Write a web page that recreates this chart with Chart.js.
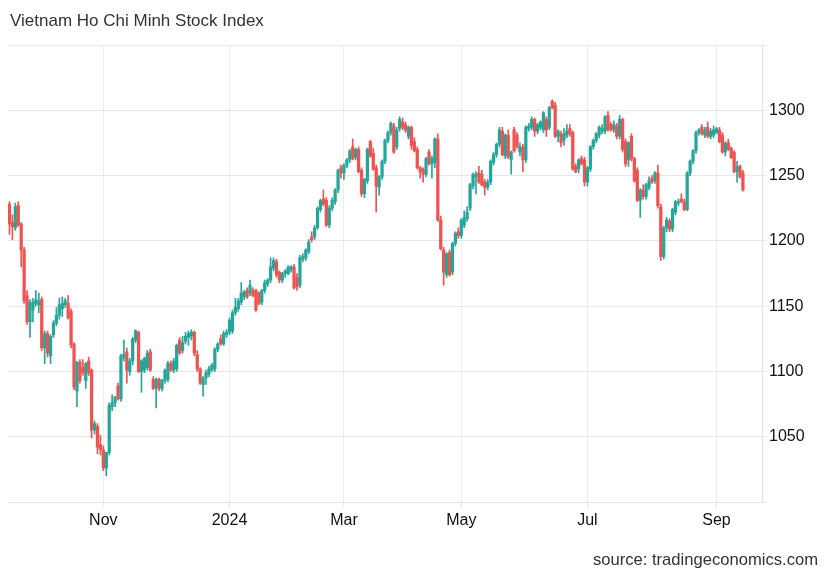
<!DOCTYPE html>
<html lang="en">
<head>
    <meta charset="UTF-8">
    <title>Vietnam Ho Chi Minh Stock Index</title>
    <script src="https://cdn.jsdelivr.net/npm/chart.js"></script>
    <style>
        body { margin: 0; background: #fff; font-family: "Liberation Sans", Arial, sans-serif; }
        .wrap { position: relative; width: 830px; height: 575px; }
        .title { position: absolute; left: 10px; top: 11px; font-size: 17px; color: #333; }
        .source { position: absolute; right: 12px; top: 550px; font-size: 16.6px; color: #333; }
    </style>
</head>
<body>
    <div class="wrap">
        <canvas id="chart" width="830" height="575"></canvas>
        <div class="title">Vietnam Ho Chi Minh Stock Index</div>
        <div class="source">source: tradingeconomics.com</div>
    </div>

    <script>
        // daily candles, one per trading day (mid Sep 2023 .. mid Sep 2024)
        const openVals = [
            1228,1214,1210,1227,1213,1193,1158,1138,1147,1152,
            1151,1155,1118,1129,1112,1128,1137,1143,1148,1151,
            1152,1146,1121,1085,1107,1103,1093,1108,1101,1055,
            1058,1044,1040,1026,1038,1073,1076,1089,1079,1111,
            1115,1100,1108,1124,1130,1100,1101,1103,1115,1094,
            1087,1094,1087,1093,1094,1106,1101,1102,1124,1116,
            1123,1126,1127,1130,1113,1102,1090,1095,1098,1101,
            1102,1117,1125,1121,1128,1130,1131,1145,1148,1153,
            1157,1162,1160,1162,1162,1160,1153,1162,1167,1170,
            1179,1184,1176,1170,1175,1175,1178,1180,1172,1166,
            1186,1187,1192,1203,1203,1210,1224,1232,1231,1212,
            1225,1230,1239,1256,1252,1258,1262,1272,1264,1270,
            1254,1236,1246,1276,1267,1256,1241,1249,1261,1277,
            1283,1288,1272,1286,1291,1289,1280,1287,1276,1270,
            1256,1255,1251,1268,1259,1260,1278,1216,1193,1174,
            1191,1176,1198,1207,1204,1212,1217,1225,1242,1249,
            1252,1251,1245,1241,1245,1260,1266,1274,1284,1265,
            1281,1262,1285,1281,1268,1272,1262,1286,1287,1293,
            1284,1287,1285,1293,1287,1307,1304,1280,1282,1277,
            1281,1286,1283,1257,1255,1263,1262,1245,1255,1272,
            1277,1281,1284,1284,1296,1289,1285,1288,1280,1293,
            1276,1262,1280,1263,1254,1231,1239,1234,1241,1248,
            1246,1252,1226,1188,1210,1215,1209,1222,1229,1232,
            1230,1224,1252,1261,1269,1283,1287,1281,1287,1280,
            1281,1283,1285,1281,1268,1275,1271,1268,1253,1257,1252
        ];
        const highVals = [
            1230,1220,1229,1230,1214,1195,1162,1155,1156,1162,
            1160,1157,1131,1131,1128,1139,1149,1156,1157,1156,
            1158,1148,1122,1108,1109,1109,1107,1111,1102,1062,
            1060,1051,1043,1038,1076,1082,1081,1091,1113,1124,
            1118,1110,1126,1132,1131,1109,1111,1116,1117,1096,
            1095,1095,1094,1102,1108,1108,1110,1121,1126,1127,
            1130,1131,1132,1131,1116,1103,1096,1101,1104,1106,
            1118,1122,1128,1131,1132,1141,1147,1156,1156,1168,
            1162,1164,1170,1164,1163,1161,1163,1170,1171,1187,
            1187,1186,1177,1176,1178,1181,1181,1182,1175,1189,
            1190,1194,1201,1207,1212,1226,1232,1239,1233,1227,
            1233,1240,1255,1258,1259,1263,1270,1278,1271,1272,
            1256,1248,1271,1277,1271,1258,1250,1262,1278,1284,
            1291,1290,1287,1295,1294,1291,1288,1288,1279,1272,
            1257,1256,1264,1270,1265,1279,1282,1219,1195,1191,
            1193,1199,1207,1210,1217,1223,1226,1244,1252,1253,
            1257,1254,1247,1247,1262,1268,1275,1287,1287,1282,
            1285,1269,1287,1283,1275,1274,1288,1290,1295,1294,
            1290,1292,1299,1295,1303,1308,1306,1285,1284,1286,
            1289,1289,1284,1259,1263,1265,1264,1257,1273,1278,
            1283,1288,1289,1296,1299,1291,1292,1290,1296,1294,
            1278,1276,1282,1264,1256,1240,1243,1244,1249,1250,
            1253,1258,1228,1211,1218,1217,1225,1231,1232,1236,
            1232,1253,1262,1270,1284,1286,1289,1287,1291,1286,
            1288,1287,1287,1283,1276,1278,1272,1269,1261,1258,1254
        ];
        const lowVals = [
            1205,1201,1208,1211,1180,1152,1136,1126,1138,1150,
            1145,1116,1106,1111,1106,1126,1135,1140,1142,1149,
            1140,1118,1086,1073,1091,1097,1087,1097,1049,1052,
            1037,1036,1024,1020,1036,1070,1073,1078,1077,1108,
            1091,1097,1105,1122,1099,1084,1099,1101,1100,1086,
            1072,1085,1085,1091,1092,1100,1099,1100,1113,1114,
            1121,1120,1124,1112,1100,1090,1081,1090,1096,1100,
            1100,1115,1120,1120,1126,1128,1129,1143,1146,1151,
            1155,1156,1158,1157,1146,1151,1151,1160,1165,1168,
            1177,1172,1168,1168,1172,1174,1176,1163,1162,1164,
            1184,1185,1190,1199,1201,1209,1222,1227,1211,1210,
            1223,1228,1237,1248,1247,1256,1260,1262,1262,1252,
            1234,1233,1244,1264,1254,1222,1235,1247,1259,1275,
            1281,1267,1270,1284,1285,1283,1278,1270,1268,1255,
            1248,1245,1249,1258,1248,1256,1215,1193,1166,1172,
            1173,1174,1196,1202,1202,1210,1215,1223,1240,1236,
            1244,1242,1235,1239,1243,1258,1264,1272,1265,1263,
            1263,1251,1268,1271,1265,1253,1260,1284,1285,1280,
            1282,1285,1283,1280,1285,1301,1279,1276,1272,1273,
            1279,1280,1254,1252,1252,1258,1242,1242,1253,1270,
            1275,1279,1282,1282,1284,1284,1283,1278,1278,1268,
            1257,1257,1261,1245,1230,1218,1232,1232,1239,1244,
            1244,1225,1185,1186,1207,1207,1207,1220,1227,1229,
            1223,1223,1250,1259,1267,1281,1281,1279,1279,1278,
            1279,1282,1275,1267,1265,1269,1263,1252,1245,1248,1238
        ];
        const closeVals = [
            1213,1211,1226,1212,1193,1154,1138,1153,1153,1155,
            1154,1118,1129,1114,1127,1137,1143,1151,1152,1154,
            1141,1120,1088,1107,1093,1099,1106,1099,1055,1060,
            1042,1040,1026,1038,1074,1076,1080,1079,1112,1113,
            1101,1108,1125,1131,1100,1108,1110,1114,1101,1087,
            1094,1087,1093,1101,1106,1101,1108,1120,1114,1122,
            1127,1129,1130,1114,1102,1091,1095,1099,1102,1105,
            1117,1121,1121,1129,1130,1139,1145,1149,1154,1160,
            1161,1157,1166,1158,1147,1152,1162,1168,1170,1180,
            1185,1174,1170,1175,1177,1180,1180,1164,1165,1187,
            1188,1193,1199,1201,1210,1225,1231,1228,1212,1225,
            1231,1239,1254,1252,1258,1262,1269,1263,1270,1253,
            1236,1247,1270,1265,1255,1242,1249,1261,1277,1283,
            1290,1268,1285,1293,1287,1285,1287,1273,1269,1256,
            1253,1251,1263,1259,1263,1278,1216,1194,1176,1190,
            1174,1198,1206,1204,1216,1218,1222,1243,1251,1251,
            1245,1243,1241,1245,1261,1266,1274,1285,1266,1281,
            1264,1268,1269,1272,1272,1262,1287,1288,1293,1284,
            1289,1291,1298,1285,1302,1302,1280,1284,1275,1282,
            1284,1282,1255,1253,1262,1259,1245,1256,1272,1277,
            1282,1287,1286,1295,1285,1285,1289,1280,1293,1270,
            1259,1275,1263,1246,1231,1239,1234,1243,1246,1245,
            1252,1227,1188,1210,1216,1209,1224,1230,1230,1230,
            1224,1252,1261,1269,1283,1285,1282,1285,1280,1284,
            1285,1286,1276,1268,1275,1270,1264,1253,1257,1249,1239
        ];

        // month ticks on the trading-day axis
        const tickPos = [32, 75, 114, 154, 197, 241];
        const tickText = ['Nov', '2024', 'Mar', 'May', 'Jul', 'Sep'];
        const emptyDays = 6; // blank space after the last candle

        const UP = '#26a69a';
        const DOWN = '#ef5350';

        const labels = [];
        for (let i = 0; i < openVals.length + emptyDays; i++) labels.push(i);
        const colors = openVals.map((o, i) => closeVals[i] >= o ? UP : DOWN);

        new Chart(document.getElementById('chart'), {
            type: 'bar',
            data: {
                labels: labels,
                datasets: [
                    {
                        // candle bodies
                        data: openVals.map((o, i) => [o, closeVals[i]]),
                        backgroundColor: colors,
                        barThickness: 2.6,
                        grouped: false,
                        order: 1
                    },
                    {
                        // wicks
                        data: lowVals.map((l, i) => [l, highVals[i]]),
                        backgroundColor: colors,
                        barThickness: 1,
                        grouped: false,
                        order: 2
                    }
                ]
            },
            options: {
                responsive: false,
                animation: false,
                devicePixelRatio: 1,
                layout: { padding: { left: 8, right: 0, top: 45, bottom: 43 } },
                plugins: {
                    legend: { display: false },
                    tooltip: { enabled: false }
                },
                scales: {
                    x: {
                        type: 'category',
                        grid: { offset: false, color: '#ededed', tickLength: 6 },
                        border: { display: false },
                        ticks: {
                            autoSkip: false,
                            maxRotation: 0,
                            padding: 3,
                            color: '#111',
                            font: { size: 16, family: 'Liberation Sans' },
                            callback: (val, idx) => {
                                const k = tickPos.indexOf(idx);
                                return k >= 0 ? tickText[k] : null;
                            }
                        },
                        afterFit: (scale) => { scale.height = 30; }
                    },
                    y: {
                        position: 'right',
                        min: 1000,
                        max: 1350,
                        grid: { color: '#e6e6e6', tickLength: 4 },
                        border: { display: true, color: '#e2e2e2' },
                        ticks: {
                            stepSize: 50,
                            padding: 3,
                            color: '#111',
                            font: { size: 16, family: 'Liberation Sans' },
                            callback: (v) => (v === 1000 || v === 1350) ? '' : v
                        },
                        afterFit: (scale) => { scale.width = 68; }
                    }
                }
            }
        });
    </script>
</body>
</html>
